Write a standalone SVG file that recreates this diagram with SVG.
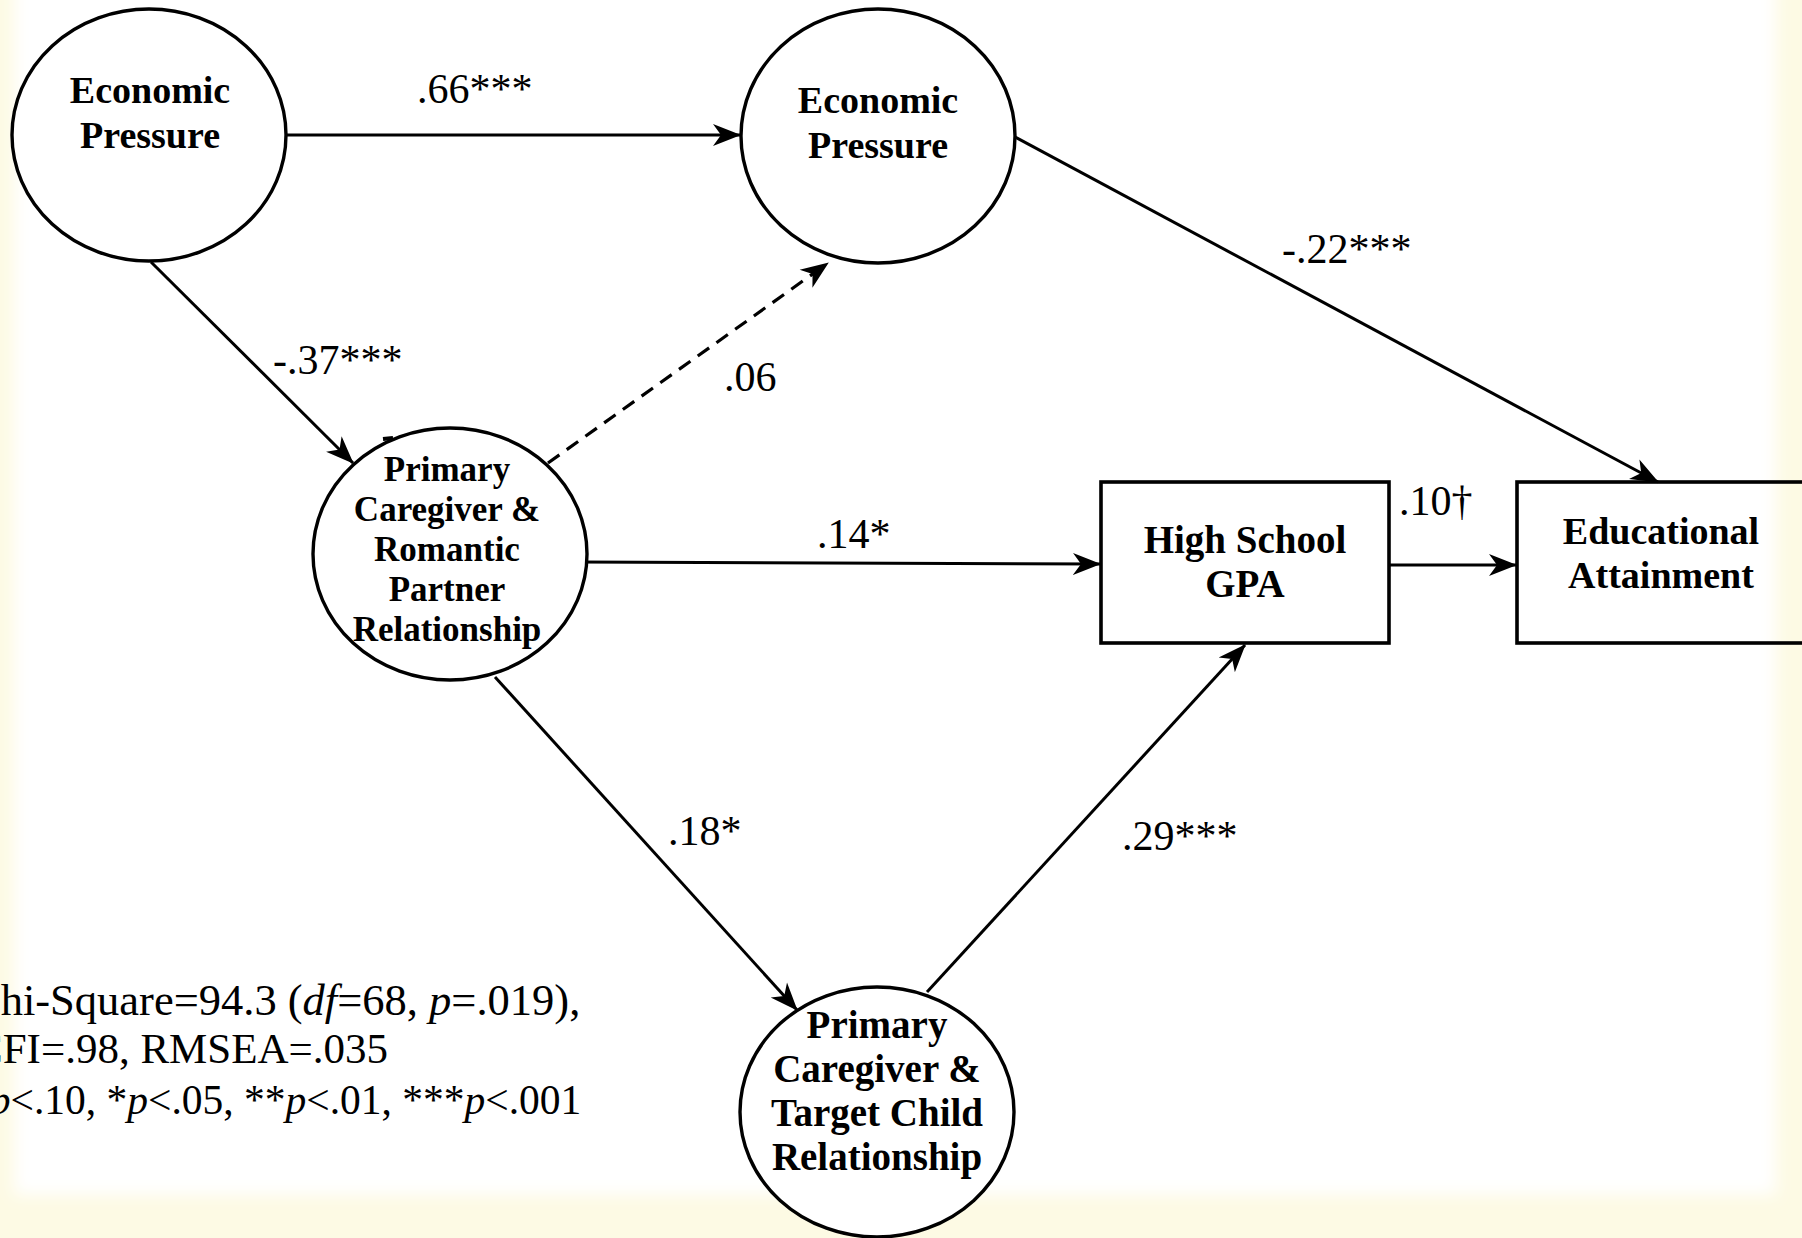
<svg xmlns="http://www.w3.org/2000/svg" width="1802" height="1238" viewBox="0 0 1802 1238">
<defs>
<filter id="soft" x="-5%" y="-5%" width="110%" height="110%"><feGaussianBlur stdDeviation="8"/></filter>
<marker id="arr" viewBox="0 0 28 24" refX="27" refY="12" markerWidth="28" markerHeight="24" markerUnits="userSpaceOnUse" orient="auto">
<path d="M0,1 L28,12 L0,23 L8,12 z" fill="#000"/>
</marker>
</defs>
<style>
.node{fill:#fff;stroke:#000;stroke-width:3.4}
.box{stroke:#000;stroke-width:3.6}
.nt{font-family:"Liberation Serif","Times New Roman",serif;font-weight:bold;text-anchor:middle;fill:#000}
.lbl{font-family:"Liberation Serif","Times New Roman",serif;font-size:42px;fill:#000}
.fn{font-family:"Liberation Serif","Times New Roman",serif;fill:#000}
.edge{stroke:#000;stroke-width:3;fill:none;marker-end:url(#arr)}
.dash{stroke-dasharray:14 9;stroke-width:3.2}
</style>
<rect x="0" y="0" width="1802" height="1238" fill="#FDFAE4"/>
<rect x="14" y="-20" width="1762" height="1215" fill="#fff" filter="url(#soft)"/>

<g id="connectors">
<line class="edge" x1="286" y1="135" x2="740" y2="135"/>
<line class="edge" x1="1015" y1="137" x2="1658" y2="482"/>
<line class="edge" x1="151" y1="262" x2="353" y2="463"/>
<line class="edge dash" x1="548" y1="463" x2="828" y2="263"/>
<line class="edge" x1="578" y1="562" x2="1100" y2="564"/>
<line class="edge" x1="495" y1="677" x2="797" y2="1010"/>
<line class="edge" x1="927" y1="992" x2="1245" y2="645"/>
<line class="edge" x1="1389" y1="565" x2="1516" y2="565"/>
</g>

<g id="node-ep1">
<ellipse class="node" cx="149" cy="135" rx="137" ry="126"/>
<text class="nt" font-size="38" x="150" y="103">Economic</text>
<text class="nt" font-size="38" x="150" y="148">Pressure</text>
</g>

<g id="node-ep2">
<ellipse class="node" cx="878" cy="136" rx="137" ry="127"/>
<text class="nt" font-size="38" x="878" y="113">Economic</text>
<text class="nt" font-size="38" x="878" y="158">Pressure</text>
</g>

<g id="node-romantic">
<ellipse class="node" cx="450" cy="554" rx="137" ry="126"/>
<line x1="383" y1="439" x2="393" y2="438" stroke="#000" stroke-width="4"/>
<text class="nt" font-size="35" x="447" y="481">Primary</text>
<text class="nt" font-size="35" x="447" y="521">Caregiver &amp;</text>
<text class="nt" font-size="35" x="447" y="561">Romantic</text>
<text class="nt" font-size="35" x="447" y="601">Partner</text>
<text class="nt" font-size="35" x="447" y="641">Relationship</text>
</g>

<g id="node-target">
<ellipse class="node" cx="877" cy="1112" rx="137" ry="125"/>
<text class="nt" font-size="39" x="877" y="1038">Primary</text>
<text class="nt" font-size="39" x="877" y="1082">Caregiver &amp;</text>
<text class="nt" font-size="39" x="877" y="1126">Target Child</text>
<text class="nt" font-size="39" x="877" y="1170">Relationship</text>
</g>

<g id="node-gpa">
<rect class="box" x="1101" y="482" width="288" height="161" fill="#fff"/>
<text class="nt" font-size="39" x="1245" y="553">High School</text>
<text class="nt" font-size="39" x="1245" y="597">GPA</text>
</g>

<g id="node-edu">
<rect class="box" x="1517" y="482" width="300" height="161" fill="none"/>
<text class="nt" font-size="38" x="1661" y="544">Educational</text>
<text class="nt" font-size="38" x="1661" y="588">Attainment</text>
</g>

<g id="labels">
<text class="lbl" x="417" y="103">.66***</text>
<text class="lbl" x="1282" y="263">-.22***</text>
<text class="lbl" x="273" y="374">-.37***</text>
<text class="lbl" x="724" y="391">.06</text>
<text class="lbl" x="817" y="548">.14*</text>
<text class="lbl" x="1399" y="515">.10†</text>
<text class="lbl" x="668" y="845">.18*</text>
<text class="lbl" x="1122" y="850">.29***</text>
</g>

<g id="fit-note">
<text class="fn" font-size="44.5" x="-29" y="1015">Chi-Square=94.3 (<tspan font-style="italic">df</tspan>=68, <tspan font-style="italic">p</tspan>=.019),</text>
<text class="fn" font-size="43" x="-26" y="1063">CFI=.98, RMSEA=.035</text>
<text class="fn" font-size="41.5" x="-31" y="1114">†<tspan font-style="italic">p</tspan>&lt;.10, *<tspan font-style="italic">p</tspan>&lt;.05, **<tspan font-style="italic">p</tspan>&lt;.01, ***<tspan font-style="italic">p</tspan>&lt;.001</text>
</g>
</svg>
